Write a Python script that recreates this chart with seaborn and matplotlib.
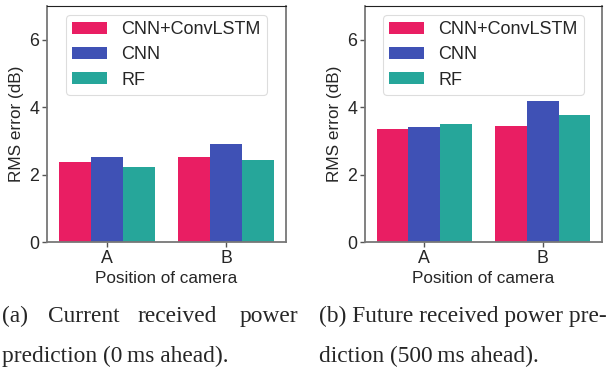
import matplotlib
matplotlib.use("Agg")
import matplotlib.pyplot as plt
import seaborn as sns
import pandas as pd

positions = ["A", "B"]
models = ["CNN+ConvLSTM", "CNN", "RF"]
current_vals = {"CNN+ConvLSTM": [2.37, 2.51], "CNN": [2.51, 2.90], "RF": [2.23, 2.43]}
future_vals = {"CNN+ConvLSTM": [3.34, 3.44], "CNN": [3.40, 4.19], "RF": [3.49, 3.76]}
colors = ["#E91E63", "#3F51B5", "#26A69A"]
y_ticks = [0, 2, 4, 6]

sns.set_theme(style="white")
plt.rcParams['font.family'] = ['Liberation Sans', 'DejaVu Sans']

def to_df(vals):
    rows = []
    for m in models:
        for p, v in zip(positions, vals[m]):
            rows.append({"Position": p, "Model": m, "RMS": v})
    return pd.DataFrame(rows)

fig = plt.figure(figsize=(6.14, 3.71), dpi=100)
ax1 = fig.add_axes([47/614, 1-242/371, 239/614, 236/371])
ax2 = fig.add_axes([365/614, 1-242/371, 237/614, 236/371])

for ax, vals in [(ax1, current_vals), (ax2, future_vals)]:
    df = to_df(vals)
    sns.barplot(data=df, x="Position", y="RMS", hue="Model", hue_order=models,
                order=positions, palette=colors, width=0.8, saturation=1,
                ax=ax, errorbar=None, linewidth=0, edgecolor="none")
    ax.set_ylim(0, 7)
    ax.set_xlim(-0.5, 1.5)
    ax.set_yticks(y_ticks)
    ax.set_xlabel("Position of camera", fontsize=12.3, labelpad=3)
    ax.set_ylabel("RMS error (dB)", fontsize=12.3)
    ax.tick_params(axis="both", labelsize=12.8, length=3.5, width=1, color="#555555",
                   bottom=True, left=True, pad=2)
    for s in ["left", "bottom", "right"]:
        ax.spines[s].set_color("#777777")
        ax.spines[s].set_linewidth(1.3)
    ax.spines["top"].set_color("#222222")
    ax.spines["top"].set_linewidth(0.8)
    leg = ax.legend(loc="upper center", fontsize=13, handlelength=1.9, handleheight=0.65,
                    labelspacing=0.45, borderpad=0.35, handletextpad=0.8, frameon=True,
                    fancybox=True, edgecolor="#dddddd", framealpha=1)
    leg.get_frame().set_linewidth(0.8)

cap_kw = dict(family=['Liberation Serif', 'DejaVu Serif'], fontsize=16.8, va="baseline")
# caption (a), justified first line
fig.text(2/614, 1-322/371, "(a)", **cap_kw)
fig.text(48/614, 1-322/371, "Current", **cap_kw)
fig.text(137/614, 1-322/371, "received", **cap_kw)
fig.text(240/614, 1-322/371, "power", **cap_kw)
fig.text(2/614, 1-362/371, "prediction (0\u2009ms ahead).", **cap_kw)
# caption (b)
fig.text(319/614, 1-322/371, "(b) Future received power pre-", **cap_kw)
fig.text(319/614, 1-362/371, "diction (500\u2009ms ahead).", **cap_kw)

fig.savefig("out.png", dpi=100)
